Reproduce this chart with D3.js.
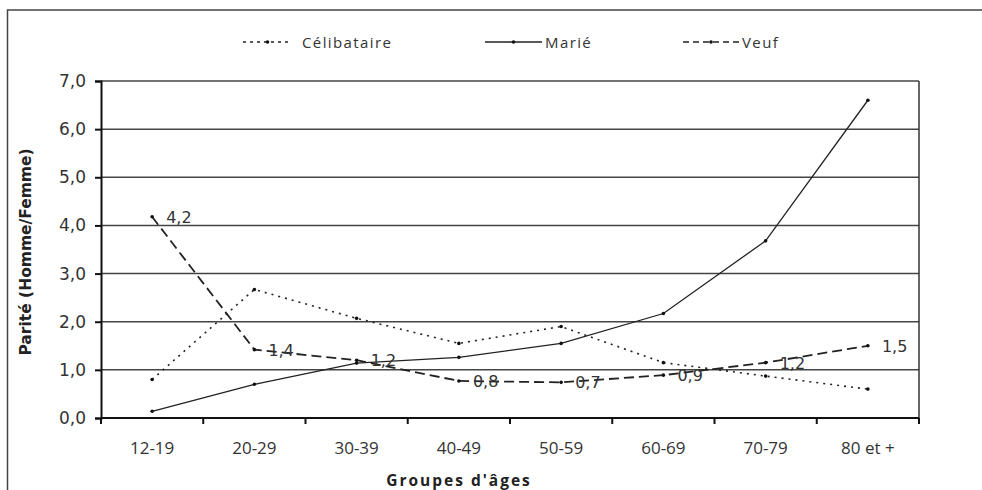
<!DOCTYPE html>
<html><head><meta charset="utf-8">
<script src="https://cdn.jsdelivr.net/npm/d3@7/dist/d3.min.js"></script>
<style>
html,body{margin:0;padding:0;background:#fff;}
svg{display:block;}
</style></head>
<body>
<svg id="chart" width="982" height="490"></svg>
<script>
const categories = ["12-19","20-29","30-39","40-49","50-59","60-69","70-79","80 et +"];
const celibataire = [0.8, 2.67, 2.07, 1.55, 1.9, 1.15, 0.87, 0.6];
const marie = [0.14, 0.7, 1.14, 1.26, 1.55, 2.17, 3.68, 6.6];
const veuf = [4.18, 1.42, 1.2, 0.77, 0.74, 0.89, 1.15, 1.5];
const veufLabels = ["4,2","1,4","1,2","0,8","0,7","0,9","1,2","1,5"];
const yTicks = [0,1,2,3,4,5,6,7];
const seriesNames = ["Célibataire","Marié","Veuf"];

const svg = d3.select("#chart");
const M = {left:101, right:919, top:81, bottom:418};
const x = d3.scaleBand().domain(categories).range([M.left, M.right]).paddingInner(0).paddingOuter(0);
const y = d3.scaleLinear().domain([0,7]).range([M.bottom, M.top]);
const cx = d => x(d) + x.bandwidth()/2;
const fmt = v => d3.format(".1f")(v).replace(".", ",");
const numFont = "DejaVu Sans, Verdana, sans-serif";
const txtFont = "Open Sans, Liberation Sans, sans-serif";

// outer frame
svg.append("path").attr("d","M7.5,490 L7.5,10 L982,10").attr("fill","none").attr("stroke","#444").attr("stroke-width",1.5);

// gridlines
svg.append("g").selectAll("line").data(yTicks.filter(t=>t>0)).join("line")
  .attr("x1",M.left).attr("x2",M.right).attr("y1",d=>y(d)).attr("y2",d=>y(d))
  .attr("stroke","#444").attr("stroke-width",1.5);
// right border of plot
svg.append("line").attr("x1",M.right).attr("x2",M.right).attr("y1",y(7)).attr("y2",y(0)).attr("stroke","#333").attr("stroke-width",1.5);

// axes
const yAxis = d3.axisLeft(y).tickValues(yTicks).tickFormat(fmt).tickSize(6).tickPadding(9);
const gy = svg.append("g").attr("transform",`translate(${M.left},0)`).call(yAxis);
gy.select(".domain").attr("stroke","#111").attr("stroke-width",2);
gy.selectAll(".tick line").attr("stroke","#111").attr("stroke-width",2);
gy.selectAll("text").attr("font-family",numFont).attr("font-size",17).attr("fill","#333");

const xAxis = d3.axisBottom(x).tickSize(0).tickPadding(0);
const gx = svg.append("g").attr("transform",`translate(0,${M.bottom})`).call(xAxis);
gx.select(".domain").remove();
gx.selectAll(".tick line").remove();
gx.selectAll("text").attr("font-family",txtFont)
  .attr("font-size",17).attr("fill","#333").attr("dy",0).attr("y",36);
svg.append("line").attr("x1",M.left).attr("x2",M.right).attr("y1",M.bottom).attr("y2",M.bottom).attr("stroke","#111").attr("stroke-width",2);
const bounds = categories.map(c=>x(c)).concat([M.right]);
svg.append("g").selectAll("line").data(bounds).join("line")
  .attr("x1",d=>d).attr("x2",d=>d).attr("y1",M.bottom).attr("y2",M.bottom+6)
  .attr("stroke","#111").attr("stroke-width",2);

// axis titles
svg.append("text").attr("transform",`translate(31,252) rotate(-90)`)
  .attr("text-anchor","middle").attr("font-family",numFont)
  .attr("font-weight","bold").attr("font-size",15.5).attr("fill","#222").text("Parité (Homme/Femme)");
svg.append("text").attr("x",459).attr("y",486).attr("text-anchor","middle")
  .attr("font-family",txtFont).attr("font-weight","bold")
  .attr("font-size",15.5).attr("letter-spacing",2).attr("fill","#222").text("Groupes d'âges");

// series
const line = d3.line().x((d,i)=>cx(categories[i])).y(d=>y(d));
const styles = [
  {data:celibataire, dash:"2,5", width:1.6},
  {data:marie, dash:null, width:1.3},
  {data:veuf, dash:"10,5", width:1.8}
];
styles.forEach(s=>{
  svg.append("path").datum(s.data).attr("d",line).attr("fill","none")
    .attr("stroke","#222").attr("stroke-width",s.width).attr("stroke-dasharray",s.dash);
  svg.append("g").selectAll("circle").data(s.data).join("circle")
    .attr("cx",(d,i)=>cx(categories[i])).attr("cy",d=>y(d)).attr("r",1.8).attr("fill","#111");
});

// Veuf labels
svg.append("g").selectAll("text").data(veuf).join("text")
  .attr("x",(d,i)=>cx(categories[i])+14).attr("y",d=>y(d)+6)
  .attr("font-family",numFont).attr("font-size",16).attr("fill","#333")
  .text((d,i)=>veufLabels[i]);

// legend
const legendItems = [
  {name:seriesNames[0], x0:243, x1:292, dash:"3,4", width:1.6, tx:302},
  {name:seriesNames[1], x0:485, x1:542, dash:null, width:1.5, tx:545},
  {name:seriesNames[2], x0:683, x1:739, dash:"6,4", width:1.6, tx:742}
];
const lg = svg.append("g");
legendItems.forEach(it=>{
  lg.append("line").attr("x1",it.x0).attr("x2",it.x1).attr("y1",42).attr("y2",42)
    .attr("stroke","#222").attr("stroke-width",it.width).attr("stroke-dasharray",it.dash);
  lg.append("circle").attr("cx",(it.x0+it.x1)/2).attr("cy",42).attr("r",1.8).attr("fill","#111");
  lg.append("text").attr("x",it.tx).attr("y",48).attr("font-family",txtFont)
    .attr("font-size",15).attr("letter-spacing",1.4).attr("fill","#333").text(it.name);
});
</script>
</body></html>
